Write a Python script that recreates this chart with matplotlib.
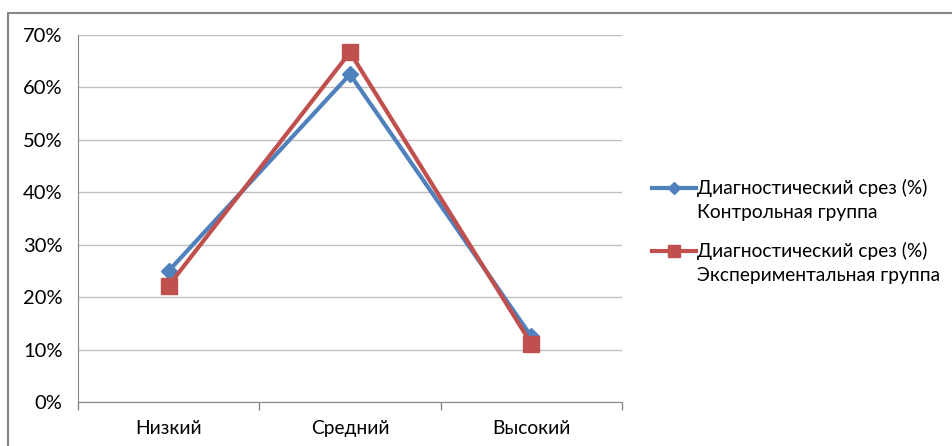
import matplotlib.pyplot as plt
import matplotlib.patches as mpatches
from matplotlib.lines import Line2D
from matplotlib.ticker import FixedLocator, NullFormatter, PercentFormatter

plt.rcParams['font.family'] = ['Lato', 'DejaVu Sans']

# ================== DATA ==================
categories = ['Низкий', 'Средний', 'Высокий']
control = [25.0, 62.5, 12.5]
experimental = [22.2, 66.7, 11.1]
series_title = 'Диагностический срез (%)'
groups = ['Контрольная группа', 'Экспериментальная группа']
colors = ['#4F81BD', '#C0504D']
markers = ['D', 's']

W, H = 952, 446

# ================== PLOT ==================
fig = plt.figure(figsize=(W / 100, H / 100), dpi=100)
ax = fig.add_axes([78 / W, 1 - 402 / H, (622 - 78) / W, (402 - 35) / H])

# outer chart frame
fig.patches.append(mpatches.Rectangle((8 / W, -0.05), 1.2, 1 - 13 / H + 0.05,
                                      transform=fig.transFigure, fill=False,
                                      edgecolor='#868686', linewidth=1.5))

x = range(len(categories))
ax.plot(x, control, color=colors[0], linewidth=3, marker=markers[0], markersize=8, zorder=3)
ax.plot(x, experimental, color=colors[1], linewidth=3, marker=markers[1], markersize=11, zorder=3)

ax.set_xlim(-0.5, 2.5)
ax.set_ylim(0, 70)
ax.set_yticks(range(0, 71, 10))
ax.yaxis.set_major_formatter(PercentFormatter(decimals=0))
ax.grid(axis='y', color='#BFBFBF', linewidth=1)
ax.set_axisbelow(True)

ax.set_xticks(list(x))
ax.set_xticklabels(categories)
ax.xaxis.set_minor_locator(FixedLocator([-0.5, 0.5, 1.5, 2.5]))
ax.xaxis.set_minor_formatter(NullFormatter())
ax.tick_params(axis='x', which='major', length=0, pad=13, labelsize=13.8, colors='#000000')
ax.tick_params(axis='x', which='minor', length=6, color='#868686', width=1)
ax.tick_params(axis='y', length=0, pad=11, labelsize=14.5)

for side in ['top', 'right']:
    ax.spines[side].set_visible(False)
for side in ['left', 'bottom']:
    ax.spines[side].set_color('#868686')

# legend: handle sits on the first text line, as in the original
legend_rows = [188, 251]
for row, grp, col, mk, ms in zip(legend_rows, groups, colors, markers, [6, 9]):
    yf = 1 - row / H
    fig.add_artist(Line2D([652 / W, 696 / W], [yf, yf], transform=fig.transFigure,
                          color=col, linewidth=3))
    fig.add_artist(Line2D([674 / W], [yf], transform=fig.transFigure, color=col,
                          marker=mk, markersize=ms, linestyle='none'))
    fig.text(697 / W, yf, series_title, fontsize=13.8, va='center', ha='left')
    fig.text(697 / W, 1 - (row + 25) / H, grp, fontsize=13.8, va='center', ha='left')

plt.savefig('out.png', dpi=100)
